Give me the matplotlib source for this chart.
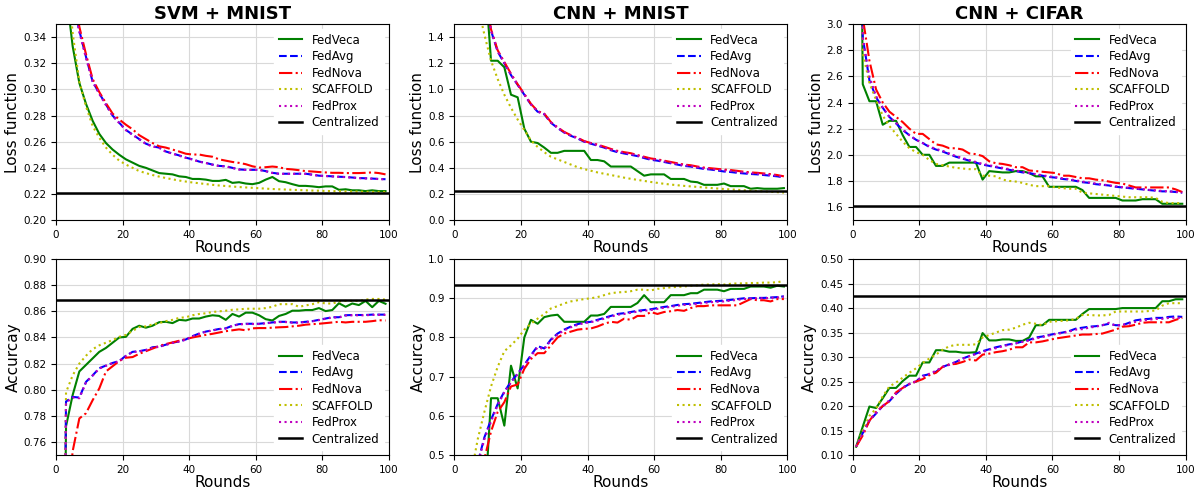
import matplotlib
matplotlib.use('Agg')
import matplotlib.pyplot as plt
import numpy as np

rounds = list(range(1, 100, 2))
methods = ['FedVeca', 'FedAvg', 'FedNova', 'SCAFFOLD', 'FedProx']

# ---- SVM + MNIST, loss ----
svm_loss_veca = [0.600, 0.376, 0.333, 0.305, 0.289, 0.276, 0.266, 0.259, 0.254, 0.250,
                 0.2465, 0.244, 0.2415, 0.240, 0.238, 0.236, 0.2355, 0.235, 0.2335, 0.233,
                 0.2315, 0.2315, 0.231, 0.230, 0.230, 0.2308, 0.2285, 0.229, 0.228, 0.2275,
                 0.2285, 0.231, 0.233, 0.2298, 0.229, 0.2275, 0.2262, 0.2262, 0.2258, 0.2252,
                 0.2258, 0.2258, 0.2232, 0.2236, 0.2228, 0.2228, 0.2222, 0.2228, 0.2222, 0.2222]
svm_loss_avg = [0.600, 0.450, 0.370, 0.345, 0.325, 0.306, 0.297, 0.2885, 0.280, 0.2745,
                0.269, 0.2655, 0.262, 0.2585, 0.2565, 0.2555, 0.2525, 0.251, 0.2495, 0.2478,
                0.2465, 0.2448, 0.2438, 0.2425, 0.2415, 0.2412, 0.240, 0.2388, 0.2385, 0.2385,
                0.2385, 0.2375, 0.2362, 0.2355, 0.2355, 0.2355, 0.2355, 0.2355, 0.2348, 0.234,
                0.2338, 0.2335, 0.2332, 0.233, 0.2326, 0.2322, 0.232, 0.2318, 0.2315, 0.2313]
svm_loss_nova = [0.600, 0.460, 0.380, 0.348, 0.327, 0.308, 0.298, 0.2895, 0.2815, 0.277,
                 0.273, 0.2695, 0.265, 0.262, 0.259, 0.2565, 0.2555, 0.254, 0.2525, 0.2508,
                 0.2502, 0.2502, 0.2492, 0.2485, 0.2465, 0.2455, 0.2445, 0.2438, 0.2428, 0.2412,
                 0.2402, 0.2405, 0.241, 0.2405, 0.2392, 0.2388, 0.2382, 0.2375, 0.2372, 0.2368,
                 0.2365, 0.2362, 0.2362, 0.236, 0.236, 0.236, 0.2362, 0.2365, 0.236, 0.235]
svm_loss_scaffold = [0.600, 0.400, 0.343, 0.306, 0.287, 0.272, 0.263, 0.2555, 0.250, 0.2455,
                     0.2425, 0.240, 0.2375, 0.236, 0.2345, 0.2333, 0.2322, 0.2312, 0.2303, 0.2295,
                     0.2288, 0.2282, 0.2276, 0.227, 0.2265, 0.2261, 0.2257, 0.2253, 0.225, 0.2247,
                     0.2244, 0.2241, 0.2238, 0.2236, 0.2234, 0.2232, 0.223, 0.2228, 0.2226, 0.2225,
                     0.2223, 0.2222, 0.2221, 0.222, 0.2219, 0.2218, 0.2217, 0.2216, 0.2216, 0.2215]
svm_loss_prox = [0.600, 0.448, 0.368, 0.344, 0.324, 0.306, 0.2965, 0.288, 0.2798, 0.2742,
                 0.2688, 0.2652, 0.2618, 0.2583, 0.2563, 0.2553, 0.2523, 0.2508, 0.2493, 0.2476,
                 0.2463, 0.2447, 0.2437, 0.2424, 0.2414, 0.2411, 0.2399, 0.2387, 0.2384, 0.2384,
                 0.2384, 0.2374, 0.2361, 0.2354, 0.2354, 0.2354, 0.2354, 0.2354, 0.2347, 0.2339,
                 0.2337, 0.2334, 0.2331, 0.2329, 0.2325, 0.2321, 0.2319, 0.2317, 0.2314, 0.2312]
svm_loss_central = 0.2205

# ---- CNN + MNIST, loss ----
cnn_loss_veca = [2.30, 2.20, 2.10, 2.00, 1.92, 1.22, 1.22, 1.17, 0.96, 0.94,
                 0.70, 0.60, 0.59, 0.555, 0.515, 0.515, 0.53, 0.53, 0.53, 0.53,
                 0.46, 0.46, 0.45, 0.41, 0.41, 0.41, 0.41, 0.375, 0.34, 0.35,
                 0.35, 0.35, 0.315, 0.315, 0.315, 0.295, 0.29, 0.27, 0.27, 0.27,
                 0.28, 0.26, 0.26, 0.26, 0.24, 0.245, 0.24, 0.24, 0.24, 0.245]
cnn_loss_avg = [2.30, 2.25, 2.15, 2.00, 1.75, 1.45, 1.29, 1.20, 1.11, 1.035,
                0.96, 0.885, 0.83, 0.81, 0.745, 0.705, 0.67, 0.645, 0.625, 0.60,
                0.585, 0.57, 0.555, 0.535, 0.52, 0.51, 0.50, 0.49, 0.475, 0.462,
                0.455, 0.445, 0.435, 0.425, 0.415, 0.41, 0.40, 0.392, 0.387, 0.38,
                0.372, 0.368, 0.362, 0.357, 0.353, 0.35, 0.345, 0.34, 0.335, 0.327]
cnn_loss_nova = [2.30, 2.25, 2.15, 2.00, 1.76, 1.46, 1.30, 1.21, 1.12, 1.04,
                 0.965, 0.89, 0.835, 0.815, 0.75, 0.71, 0.675, 0.65, 0.63, 0.605,
                 0.59, 0.578, 0.562, 0.545, 0.53, 0.52, 0.512, 0.498, 0.485, 0.472,
                 0.465, 0.455, 0.445, 0.435, 0.425, 0.42, 0.41, 0.402, 0.397, 0.392,
                 0.387, 0.383, 0.377, 0.37, 0.365, 0.362, 0.357, 0.352, 0.345, 0.335]
cnn_loss_scaffold = [2.30, 2.10, 1.90, 1.65, 1.42, 1.22, 1.08, 0.96, 0.86, 0.77,
                     0.69, 0.61, 0.56, 0.52, 0.485, 0.465, 0.445, 0.425, 0.405, 0.39,
                     0.378, 0.365, 0.355, 0.345, 0.335, 0.325, 0.316, 0.308, 0.30, 0.292,
                     0.285, 0.278, 0.272, 0.267, 0.262, 0.258, 0.254, 0.25, 0.246, 0.242,
                     0.238, 0.235, 0.232, 0.229, 0.226, 0.223, 0.22, 0.217, 0.214, 0.21]
cnn_loss_prox = [2.30, 2.25, 2.15, 2.00, 1.755, 1.455, 1.295, 1.205, 1.115, 1.038,
                 0.962, 0.888, 0.832, 0.812, 0.748, 0.708, 0.672, 0.648, 0.628, 0.603,
                 0.588, 0.574, 0.558, 0.54, 0.525, 0.515, 0.506, 0.494, 0.48, 0.467,
                 0.46, 0.45, 0.44, 0.43, 0.42, 0.415, 0.405, 0.397, 0.392, 0.386,
                 0.38, 0.376, 0.37, 0.364, 0.359, 0.356, 0.351, 0.346, 0.34, 0.331]
cnn_loss_central = 0.225

# ---- CNN + CIFAR, loss ----
cifar_loss_veca = [8.0, 2.54, 2.41, 2.41, 2.23, 2.26, 2.26, 2.15, 2.06, 2.06,
                   2.0, 2.0, 1.915, 1.915, 1.94, 1.94, 1.94, 1.94, 1.94, 1.81,
                   1.875, 1.87, 1.865, 1.865, 1.875, 1.875, 1.86, 1.835, 1.835, 1.755,
                   1.755, 1.755, 1.755, 1.755, 1.73, 1.67, 1.67, 1.67, 1.67, 1.67,
                   1.65, 1.65, 1.65, 1.66, 1.66, 1.66, 1.625, 1.625, 1.625, 1.625]
cifar_loss_avg = [8.0, 2.90, 2.57, 2.44, 2.36, 2.29, 2.24, 2.19, 2.15, 2.115,
                  2.09, 2.06, 2.04, 2.025, 2.005, 1.985, 1.97, 1.955, 1.94, 1.925,
                  1.915, 1.905, 1.895, 1.885, 1.875, 1.865, 1.86, 1.85, 1.84, 1.83,
                  1.825, 1.815, 1.81, 1.80, 1.79, 1.785, 1.775, 1.77, 1.765, 1.755,
                  1.75, 1.745, 1.74, 1.735, 1.73, 1.725, 1.72, 1.72, 1.715, 1.71]
cifar_loss_nova = [8.0, 3.05, 2.72, 2.50, 2.40, 2.33, 2.29, 2.25, 2.20, 2.16,
                   2.16, 2.12, 2.08, 2.07, 2.05, 2.05, 2.04, 2.01, 2.005, 1.99,
                   1.95, 1.935, 1.93, 1.92, 1.905, 1.905, 1.88, 1.875, 1.87, 1.865,
                   1.86, 1.84, 1.84, 1.83, 1.82, 1.82, 1.81, 1.805, 1.795, 1.785,
                   1.78, 1.765, 1.75, 1.75, 1.75, 1.75, 1.75, 1.75, 1.735, 1.715]
cifar_loss_scaffold = [8.0, 2.78, 2.55, 2.42, 2.30, 2.22, 2.16, 2.10, 2.05, 2.02,
                       2.00, 1.96, 1.93, 1.92, 1.91, 1.90, 1.895, 1.89, 1.89, 1.84,
                       1.84, 1.835, 1.81, 1.80, 1.795, 1.785, 1.77, 1.76, 1.76, 1.76,
                       1.75, 1.745, 1.74, 1.74, 1.71, 1.705, 1.70, 1.695, 1.69, 1.685,
                       1.68, 1.675, 1.675, 1.675, 1.675, 1.67, 1.64, 1.63, 1.63, 1.63]
cifar_loss_prox = [8.0, 2.88, 2.60, 2.45, 2.36, 2.29, 2.245, 2.195, 2.15, 2.115,
                   2.09, 2.065, 2.045, 2.03, 2.01, 1.99, 1.975, 1.96, 1.945, 1.93,
                   1.92, 1.91, 1.90, 1.89, 1.88, 1.87, 1.86, 1.852, 1.843, 1.835,
                   1.828, 1.82, 1.813, 1.805, 1.795, 1.788, 1.78, 1.773, 1.766, 1.758,
                   1.752, 1.748, 1.742, 1.737, 1.732, 1.728, 1.723, 1.72, 1.716, 1.712]
cifar_loss_central = 1.607

# ---- SVM + MNIST, accuracy ----
svm_acc_veca = [0.30, 0.772, 0.796, 0.814, 0.819, 0.824, 0.829, 0.832, 0.836, 0.840,
                0.8405, 0.8466, 0.849, 0.8475, 0.849, 0.8517, 0.852, 0.851, 0.8535, 0.853,
                0.8545, 0.8545, 0.856, 0.857, 0.8565, 0.8535, 0.858, 0.856, 0.859, 0.859,
                0.857, 0.854, 0.853, 0.8565, 0.858, 0.8605, 0.8605, 0.861, 0.861, 0.8625,
                0.8602, 0.861, 0.8662, 0.8635, 0.866, 0.8648, 0.868, 0.8632, 0.868, 0.8658]
svm_acc_avg = [0.30, 0.791, 0.7945, 0.794, 0.806, 0.811, 0.8165, 0.8185, 0.8205, 0.822,
               0.826, 0.829, 0.8295, 0.8305, 0.8325, 0.833, 0.8345, 0.836, 0.837, 0.8385,
               0.841, 0.843, 0.8445, 0.8455, 0.8465, 0.847, 0.849, 0.8502, 0.8505, 0.8505,
               0.8505, 0.851, 0.8515, 0.852, 0.852, 0.8515, 0.8515, 0.852, 0.8525, 0.8535,
               0.8545, 0.8555, 0.8555, 0.857, 0.8572, 0.8572, 0.8572, 0.8575, 0.8575, 0.8575]
svm_acc_nova = [0.30, 0.700, 0.753, 0.778, 0.782, 0.792, 0.801, 0.814, 0.818, 0.822,
                0.8245, 0.825, 0.8275, 0.8295, 0.8315, 0.8335, 0.835, 0.8362, 0.8375, 0.8388,
                0.840, 0.841, 0.842, 0.8428, 0.8438, 0.8448, 0.8455, 0.8462, 0.8455, 0.847,
                0.8472, 0.8472, 0.8475, 0.8478, 0.848, 0.8485, 0.849, 0.8498, 0.8502, 0.8505,
                0.851, 0.8515, 0.852, 0.8515, 0.852, 0.852, 0.852, 0.8525, 0.8532, 0.853]
svm_acc_scaffold = [0.30, 0.798, 0.811, 0.820, 0.826, 0.831, 0.834, 0.836, 0.838, 0.8405,
                    0.842, 0.845, 0.848, 0.8485, 0.850, 0.851, 0.8525, 0.8535, 0.855, 0.8555,
                    0.857, 0.858, 0.8585, 0.8595, 0.860, 0.8605, 0.8612, 0.8615, 0.862, 0.862,
                    0.862, 0.8625, 0.8635, 0.8655, 0.8655, 0.8655, 0.8635, 0.8645, 0.8655, 0.867,
                    0.866, 0.866, 0.8675, 0.868, 0.868, 0.868, 0.869, 0.8695, 0.8695, 0.869]
svm_acc_prox = [0.30, 0.790, 0.794, 0.7935, 0.8055, 0.8108, 0.8162, 0.8183, 0.8203, 0.8218,
                0.8258, 0.8288, 0.8293, 0.8303, 0.8322, 0.8328, 0.8343, 0.8358, 0.8368, 0.8383,
                0.8408, 0.8428, 0.8443, 0.8453, 0.8463, 0.8468, 0.8488, 0.85, 0.8503, 0.8503,
                0.8503, 0.8508, 0.8513, 0.8518, 0.8518, 0.8513, 0.8513, 0.8518, 0.8523, 0.8533,
                0.8543, 0.8553, 0.8553, 0.8568, 0.857, 0.857, 0.857, 0.8573, 0.8573, 0.8573]
svm_acc_central = 0.8685

# ---- CNN + MNIST, accuracy ----
cnn_acc_veca = [0.10, 0.15, 0.25, 0.30, 0.355, 0.645, 0.645, 0.575, 0.728, 0.67,
                0.80, 0.845, 0.835, 0.852, 0.856, 0.858, 0.84, 0.84, 0.84, 0.84,
                0.856, 0.856, 0.86, 0.878, 0.878, 0.878, 0.878, 0.888, 0.908, 0.89,
                0.89, 0.89, 0.908, 0.908, 0.908, 0.913, 0.913, 0.922, 0.922, 0.922,
                0.918, 0.924, 0.924, 0.924, 0.93, 0.93, 0.93, 0.927, 0.932, 0.93]
cnn_acc_avg = [0.10, 0.20, 0.35, 0.48, 0.545, 0.59, 0.63, 0.662, 0.687, 0.708,
               0.73, 0.755, 0.778, 0.772, 0.795, 0.81, 0.82, 0.828, 0.834, 0.838,
               0.84, 0.845, 0.85, 0.855, 0.86, 0.862, 0.865, 0.868, 0.87, 0.872,
               0.875, 0.878, 0.88, 0.883, 0.885, 0.886, 0.888, 0.89, 0.892, 0.893,
               0.894, 0.896, 0.898, 0.90, 0.90, 0.901, 0.901, 0.902, 0.903, 0.905]
cnn_acc_nova = [0.10, 0.18, 0.30, 0.42, 0.49, 0.56, 0.61, 0.635, 0.675, 0.68,
                0.72, 0.745, 0.76, 0.76, 0.78, 0.80, 0.81, 0.815, 0.82, 0.822,
                0.823, 0.828, 0.835, 0.84, 0.838, 0.848, 0.845, 0.855, 0.855, 0.865,
                0.86, 0.865, 0.867, 0.87, 0.868, 0.875, 0.88, 0.88, 0.882, 0.882,
                0.882, 0.882, 0.882, 0.89, 0.898, 0.895, 0.895, 0.892, 0.898, 0.898]
cnn_acc_scaffold = [0.10, 0.25, 0.45, 0.54, 0.61, 0.675, 0.725, 0.765, 0.78, 0.797,
                    0.82, 0.835, 0.848, 0.86, 0.874, 0.88, 0.887, 0.892, 0.895, 0.898,
                    0.90, 0.903, 0.908, 0.913, 0.915, 0.916, 0.918, 0.922, 0.922, 0.92,
                    0.924, 0.926, 0.928, 0.929, 0.93, 0.932, 0.933, 0.935, 0.935, 0.936,
                    0.935, 0.937, 0.938, 0.938, 0.939, 0.939, 0.94, 0.94, 0.941, 0.944]
cnn_acc_prox = [0.10, 0.20, 0.35, 0.475, 0.54, 0.585, 0.627, 0.66, 0.685, 0.706,
                0.728, 0.752, 0.775, 0.77, 0.793, 0.808, 0.818, 0.826, 0.832, 0.837,
                0.839, 0.843, 0.848, 0.853, 0.858, 0.86, 0.863, 0.866, 0.868, 0.87,
                0.873, 0.876, 0.878, 0.881, 0.883, 0.884, 0.886, 0.888, 0.89, 0.891,
                0.892, 0.894, 0.896, 0.898, 0.899, 0.9, 0.9, 0.901, 0.902, 0.904]
cnn_acc_central = 0.934

# ---- CNN + CIFAR, accuracy ----
cifar_acc_veca = [0.117, 0.158, 0.199, 0.196, 0.216, 0.237, 0.237, 0.251, 0.262, 0.262,
                  0.289, 0.289, 0.314, 0.314, 0.311, 0.311, 0.309, 0.309, 0.31, 0.349,
                  0.334, 0.334, 0.336, 0.336, 0.333, 0.333, 0.34, 0.365, 0.365, 0.376,
                  0.376, 0.376, 0.376, 0.376, 0.388, 0.398, 0.398, 0.398, 0.398, 0.398,
                  0.40, 0.40, 0.40, 0.40, 0.40, 0.40, 0.414, 0.414, 0.418, 0.418]
cifar_acc_avg = [0.117, 0.145, 0.17, 0.185, 0.20, 0.21, 0.225, 0.237, 0.245, 0.25,
                 0.262, 0.265, 0.27, 0.28, 0.285, 0.29, 0.297, 0.302, 0.307, 0.312,
                 0.316, 0.32, 0.323, 0.326, 0.328, 0.332, 0.335, 0.34, 0.342, 0.345,
                 0.348, 0.35, 0.353, 0.358, 0.36, 0.362, 0.363, 0.365, 0.368, 0.365,
                 0.365, 0.37, 0.375, 0.377, 0.378, 0.38, 0.38, 0.382, 0.383, 0.382]
cifar_acc_nova = [0.117, 0.14, 0.17, 0.188, 0.20, 0.21, 0.228, 0.237, 0.245, 0.25,
                  0.255, 0.263, 0.268, 0.28, 0.285, 0.286, 0.29, 0.295, 0.293, 0.305,
                  0.307, 0.31, 0.312, 0.315, 0.32, 0.32, 0.33, 0.33, 0.332, 0.335,
                  0.338, 0.34, 0.342, 0.344, 0.346, 0.346, 0.347, 0.348, 0.352, 0.356,
                  0.362, 0.363, 0.366, 0.37, 0.371, 0.371, 0.371, 0.371, 0.376, 0.38]
cifar_acc_scaffold = [0.117, 0.15, 0.18, 0.195, 0.22, 0.24, 0.248, 0.258, 0.268, 0.277,
                      0.288, 0.297, 0.305, 0.315, 0.322, 0.325, 0.325, 0.325, 0.326, 0.34,
                      0.345, 0.35, 0.355, 0.356, 0.36, 0.366, 0.37, 0.368, 0.365, 0.372,
                      0.373, 0.374, 0.375, 0.378, 0.386, 0.386, 0.385, 0.385, 0.386, 0.393,
                      0.393, 0.393, 0.393, 0.393, 0.394, 0.395, 0.405, 0.41, 0.41, 0.41]
cifar_acc_prox = [0.117, 0.145, 0.172, 0.186, 0.20, 0.212, 0.226, 0.238, 0.245, 0.251,
                  0.26, 0.266, 0.272, 0.28, 0.284, 0.29, 0.296, 0.302, 0.306, 0.31,
                  0.315, 0.318, 0.322, 0.325, 0.328, 0.331, 0.334, 0.338, 0.341, 0.344,
                  0.347, 0.349, 0.352, 0.356, 0.357, 0.36, 0.362, 0.365, 0.37, 0.364,
                  0.366, 0.368, 0.372, 0.375, 0.376, 0.378, 0.378, 0.38, 0.38, 0.38]
cifar_acc_central = 0.424

styles = [('g', '-'), ('b', '--'), ('r', '-.'), ('y', ':'), ('m', ':')]


def draw(ax, series, central, ylim, yticks, ylabel, legend_loc, title=None):
    for (c, ls), name, vals in zip(styles, methods, series):
        ax.plot(rounds, vals, color=c, linestyle=ls, linewidth=1.5, label=name)
    ax.axhline(central, color='k', linewidth=1.8, label='Centralized')
    ax.set_xlim(0, 100)
    ax.set_ylim(*ylim)
    ax.set_yticks(yticks)
    ax.set_xticks([0, 20, 40, 60, 80, 100])
    ax.tick_params(labelsize=7.5)
    ax.grid(True, color='#d9d9d9', linewidth=0.8)
    ax.set_axisbelow(True)
    ax.set_xlabel('Rounds', fontsize=11, labelpad=0)
    ax.set_ylabel(ylabel, fontsize=11, labelpad=2)
    if title:
        ax.set_title(title, fontsize=13, fontweight='bold', pad=4)
    leg = ax.legend(loc=legend_loc, fontsize=8.5, framealpha=1.0, edgecolor='white',
                    borderaxespad=0.4, labelspacing=0.3)


fig, axes = plt.subplots(2, 3, figsize=(12, 4.93), dpi=100)
fig.subplots_adjust(left=0.0467, right=0.988, bottom=0.077, top=0.951,
                    wspace=0.197, hspace=0.199)

draw(axes[0, 0], [svm_loss_veca, svm_loss_avg, svm_loss_nova, svm_loss_scaffold, svm_loss_prox],
     svm_loss_central, (0.20, 0.35), np.arange(0.20, 0.341, 0.02), 'Loss function',
     'upper right', 'SVM + MNIST')
draw(axes[0, 1], [cnn_loss_veca, cnn_loss_avg, cnn_loss_nova, cnn_loss_scaffold, cnn_loss_prox],
     cnn_loss_central, (0.0, 1.5), np.arange(0.0, 1.41, 0.2), 'Loss function',
     'upper right', 'CNN + MNIST')
draw(axes[0, 2], [cifar_loss_veca, cifar_loss_avg, cifar_loss_nova, cifar_loss_scaffold, cifar_loss_prox],
     cifar_loss_central, (1.5, 3.0), np.arange(1.6, 3.01, 0.2), 'Loss function',
     'upper right', 'CNN + CIFAR')
draw(axes[1, 0], [svm_acc_veca, svm_acc_avg, svm_acc_nova, svm_acc_scaffold, svm_acc_prox],
     svm_acc_central, (0.75, 0.90), np.arange(0.76, 0.901, 0.02), 'Accurcay', 'lower right')
draw(axes[1, 1], [cnn_acc_veca, cnn_acc_avg, cnn_acc_nova, cnn_acc_scaffold, cnn_acc_prox],
     cnn_acc_central, (0.5, 1.0), np.arange(0.5, 1.01, 0.1), 'Accurcay', 'lower right')
draw(axes[1, 2], [cifar_acc_veca, cifar_acc_avg, cifar_acc_nova, cifar_acc_scaffold, cifar_acc_prox],
     cifar_acc_central, (0.10, 0.50), np.arange(0.10, 0.501, 0.05), 'Accurcay', 'lower right')

fig.savefig('out.png', dpi=100)
